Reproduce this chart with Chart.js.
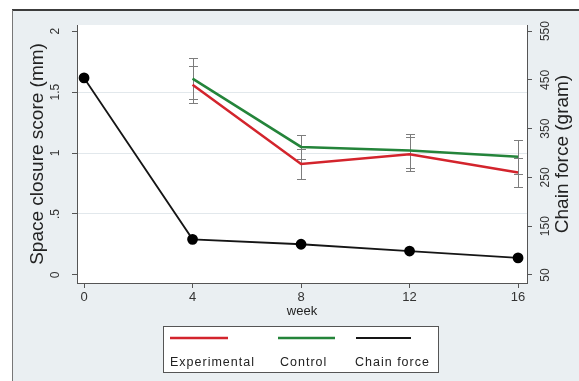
<!DOCTYPE html>
<html>
<head>
<meta charset="utf-8">
<script src="https://cdn.jsdelivr.net/npm/chart.js@4.4.1/dist/chart.umd.min.js"></script>
<style>
  html, body { margin: 0; padding: 0; background: #fff; }
  #wrap { width: 579px; height: 381px; position: relative; }
</style>
</head>
<body>
<div id="wrap"><canvas id="chart"></canvas></div>
<script>
// values
const weeks = [0, 4, 8, 12, 16];
const experimental = [null, 1.56, 0.91, 0.99, 0.84];
const experimentalErr = [null, 0.15, 0.12, 0.14, 0.12];
const control = [null, 1.61, 1.05, 1.02, 0.97];
const controlErr = [null, 0.17, 0.10, 0.14, 0.14];
const chainForce = [454, 123, 113, 99, 85];

const scoreTicks = [0, 0.5, 1, 1.5, 2];
const scoreTickLabels = ['0', '.5', '1', '1.5', '2'];
const forceTicks = [50, 150, 250, 350, 450, 550];

const FONT = "'Liberation Sans', Arial, sans-serif";
const AXIS = '#555';

function toPoints(values) {
    return weeks.map((w, i) => ({ x: w, y: values[i] }));
}

// grey frame, white plot region
const background = {
    id: 'background',
    beforeDraw(chart) {
        const { ctx, width, height, chartArea } = chart;
        ctx.save();
        ctx.fillStyle = '#fff';
        ctx.fillRect(0, 0, width, height);
        ctx.fillStyle = '#eaeff2';
        ctx.fillRect(12, 10, width - 12, height - 10);
        ctx.fillStyle = '#fff';
        ctx.fillRect(chartArea.left, chartArea.top, chartArea.right - chartArea.left, chartArea.bottom - chartArea.top);
        ctx.strokeStyle = '#3c3c3c';
        ctx.lineWidth = 2;
        ctx.beginPath(); ctx.moveTo(12, 10); ctx.lineTo(width, 10); ctx.stroke();
        ctx.strokeStyle = '#777';
        ctx.lineWidth = 1;
        ctx.beginPath(); ctx.moveTo(12.5, 10); ctx.lineTo(12.5, height); ctx.stroke();
        ctx.restore();
    }
};

// capped error bars from dataset.errors
const errorBars = {
    id: 'errorBars',
    beforeDatasetsDraw(chart) {
        const { ctx } = chart;
        const x = chart.scales.x;
        ctx.save();
        ctx.strokeStyle = '#7d7d7d';
        ctx.lineWidth = 1;
        chart.data.datasets.forEach(ds => {
            if (!ds.errors) return;
            const y = chart.scales[ds.yAxisID];
            ds.data.forEach((p, i) => {
                const e = ds.errors[i];
                if (p.y == null || e == null) return;
                const px = Math.round(x.getPixelForValue(p.x)) + 0.5;
                const top = Math.round(y.getPixelForValue(p.y + e)) + 0.5;
                const bot = Math.round(y.getPixelForValue(p.y - e)) + 0.5;
                ctx.beginPath();
                ctx.moveTo(px, top); ctx.lineTo(px, bot);
                ctx.moveTo(px - 4.5, top); ctx.lineTo(px + 4.5, top);
                ctx.moveTo(px - 4.5, bot); ctx.lineTo(px + 4.5, bot);
                ctx.stroke();
            });
        });
        ctx.restore();
    }
};

// right title reads bottom-to-top like the left one
const rightTitle = {
    id: 'rightTitle',
    afterDraw(chart) {
        const { ctx, chartArea } = chart;
        ctx.save();
        ctx.translate(563, (chartArea.top + chartArea.bottom) / 2);
        ctx.rotate(-Math.PI / 2);
        ctx.font = '19px ' + FONT;
        ctx.fillStyle = '#222';
        ctx.textAlign = 'center';
        ctx.textBaseline = 'middle';
        ctx.fillText('Chain force (gram)', 0, 0);
        ctx.restore();
    }
};

// Stata style legend: line sample above the label
const stataLegend = {
    id: 'stataLegend',
    afterDraw(chart) {
        const { ctx } = chart;
        const lineX = [170, 278, 356];
        const lineW = [58, 57, 55];
        const textX = [170, 280, 355];
        ctx.save();
        ctx.fillStyle = '#fff';
        ctx.fillRect(163.5, 326.5, 275, 46);
        ctx.strokeStyle = '#555';
        ctx.lineWidth = 1;
        ctx.strokeRect(163.5, 326.5, 275, 46);
        ctx.font = '12.5px ' + FONT;
        ctx.letterSpacing = '1px';
        ctx.textBaseline = 'alphabetic';
        chart.data.datasets.forEach((ds, i) => {
            ctx.strokeStyle = ds.borderColor;
            ctx.lineWidth = ds.borderWidth;
            ctx.beginPath();
            ctx.moveTo(lineX[i], 338);
            ctx.lineTo(lineX[i] + lineW[i], 338);
            ctx.stroke();
            ctx.fillStyle = '#222';
            ctx.fillText(ds.label, textX[i], 366);
        });
        ctx.restore();
    }
};

const ctx = document.getElementById('chart');
new Chart(ctx, {
    type: 'line',
    data: {
        datasets: [
            {
                label: 'Experimental',
                data: toPoints(experimental),
                errors: experimentalErr,
                borderColor: '#d3242c',
                borderWidth: 2.5,
                pointRadius: 0,
                yAxisID: 'y'
            },
            {
                label: 'Control',
                data: toPoints(control),
                errors: controlErr,
                borderColor: '#24843a',
                borderWidth: 2.5,
                pointRadius: 0,
                yAxisID: 'y'
            },
            {
                label: 'Chain force',
                data: toPoints(chainForce),
                borderColor: '#151515',
                borderWidth: 1.8,
                pointRadius: 4.5,
                pointBackgroundColor: '#000',
                pointBorderColor: '#000',
                yAxisID: 'y1'
            }
        ]
    },
    options: {
        responsive: true,
        maintainAspectRatio: false,
        animation: false,
        layout: { padding: { top: 25, bottom: 60, left: 0, right: 0 } },
        plugins: { legend: { display: false }, tooltip: { enabled: false } },
        scales: {
            x: {
                type: 'linear',
                min: -0.26,
                max: 16.33,
                afterBuildTicks: s => { s.ticks = weeks.map(v => ({ value: v })); },
                afterFit: s => { s.height = 38; },
                grid: { drawOnChartArea: false, drawTicks: true, tickLength: 5, color: AXIS },
                border: { color: AXIS },
                ticks: { color: '#333', font: { size: 13, family: FONT }, padding: 2, maxRotation: 0, autoSkip: false },
                title: { display: true, text: 'week', color: '#222', font: { size: 13, family: FONT }, padding: { top: 0, bottom: 2 } }
            },
            y: {
                position: 'left',
                min: -0.066,
                max: 2.05,
                afterBuildTicks: s => { s.ticks = scoreTicks.map(v => ({ value: v })); },
                afterFit: s => { s.width = 77; },
                grid: {
                    color: c => (c.tick && c.tick.value > 0 && c.tick.value < 2) ? '#e2e8ec' : 'rgba(0,0,0,0)',
                    tickColor: AXIS,
                    tickLength: 5
                },
                border: { color: AXIS },
                ticks: {
                    color: '#333',
                    font: { size: 12, family: FONT },
                    minRotation: 90,
                    maxRotation: 90,
                    crossAlign: 'center',
                    padding: 8,
                    autoSkip: false,
                    callback: (v, i) => scoreTickLabels[i]
                },
                title: { display: true, text: 'Space closure score (mm)', color: '#222', font: { size: 19, family: FONT }, padding: { top: 26, bottom: 0 } }
            },
            y1: {
                position: 'right',
                min: 33.5,
                max: 562.5,
                afterBuildTicks: s => { s.ticks = forceTicks.map(v => ({ value: v })); },
                afterFit: s => { s.width = 52; },
                grid: { drawOnChartArea: false, tickColor: AXIS, tickLength: 5 },
                border: { color: AXIS },
                ticks: {
                    color: '#333',
                    font: { size: 12, family: FONT },
                    minRotation: 90,
                    maxRotation: 90,
                    crossAlign: 'center',
                    padding: 4,
                    autoSkip: false,
                    callback: v => String(v)
                }
            }
        }
    },
    plugins: [background, errorBars, rightTitle, stataLegend]
});
</script>
</body>
</html>
